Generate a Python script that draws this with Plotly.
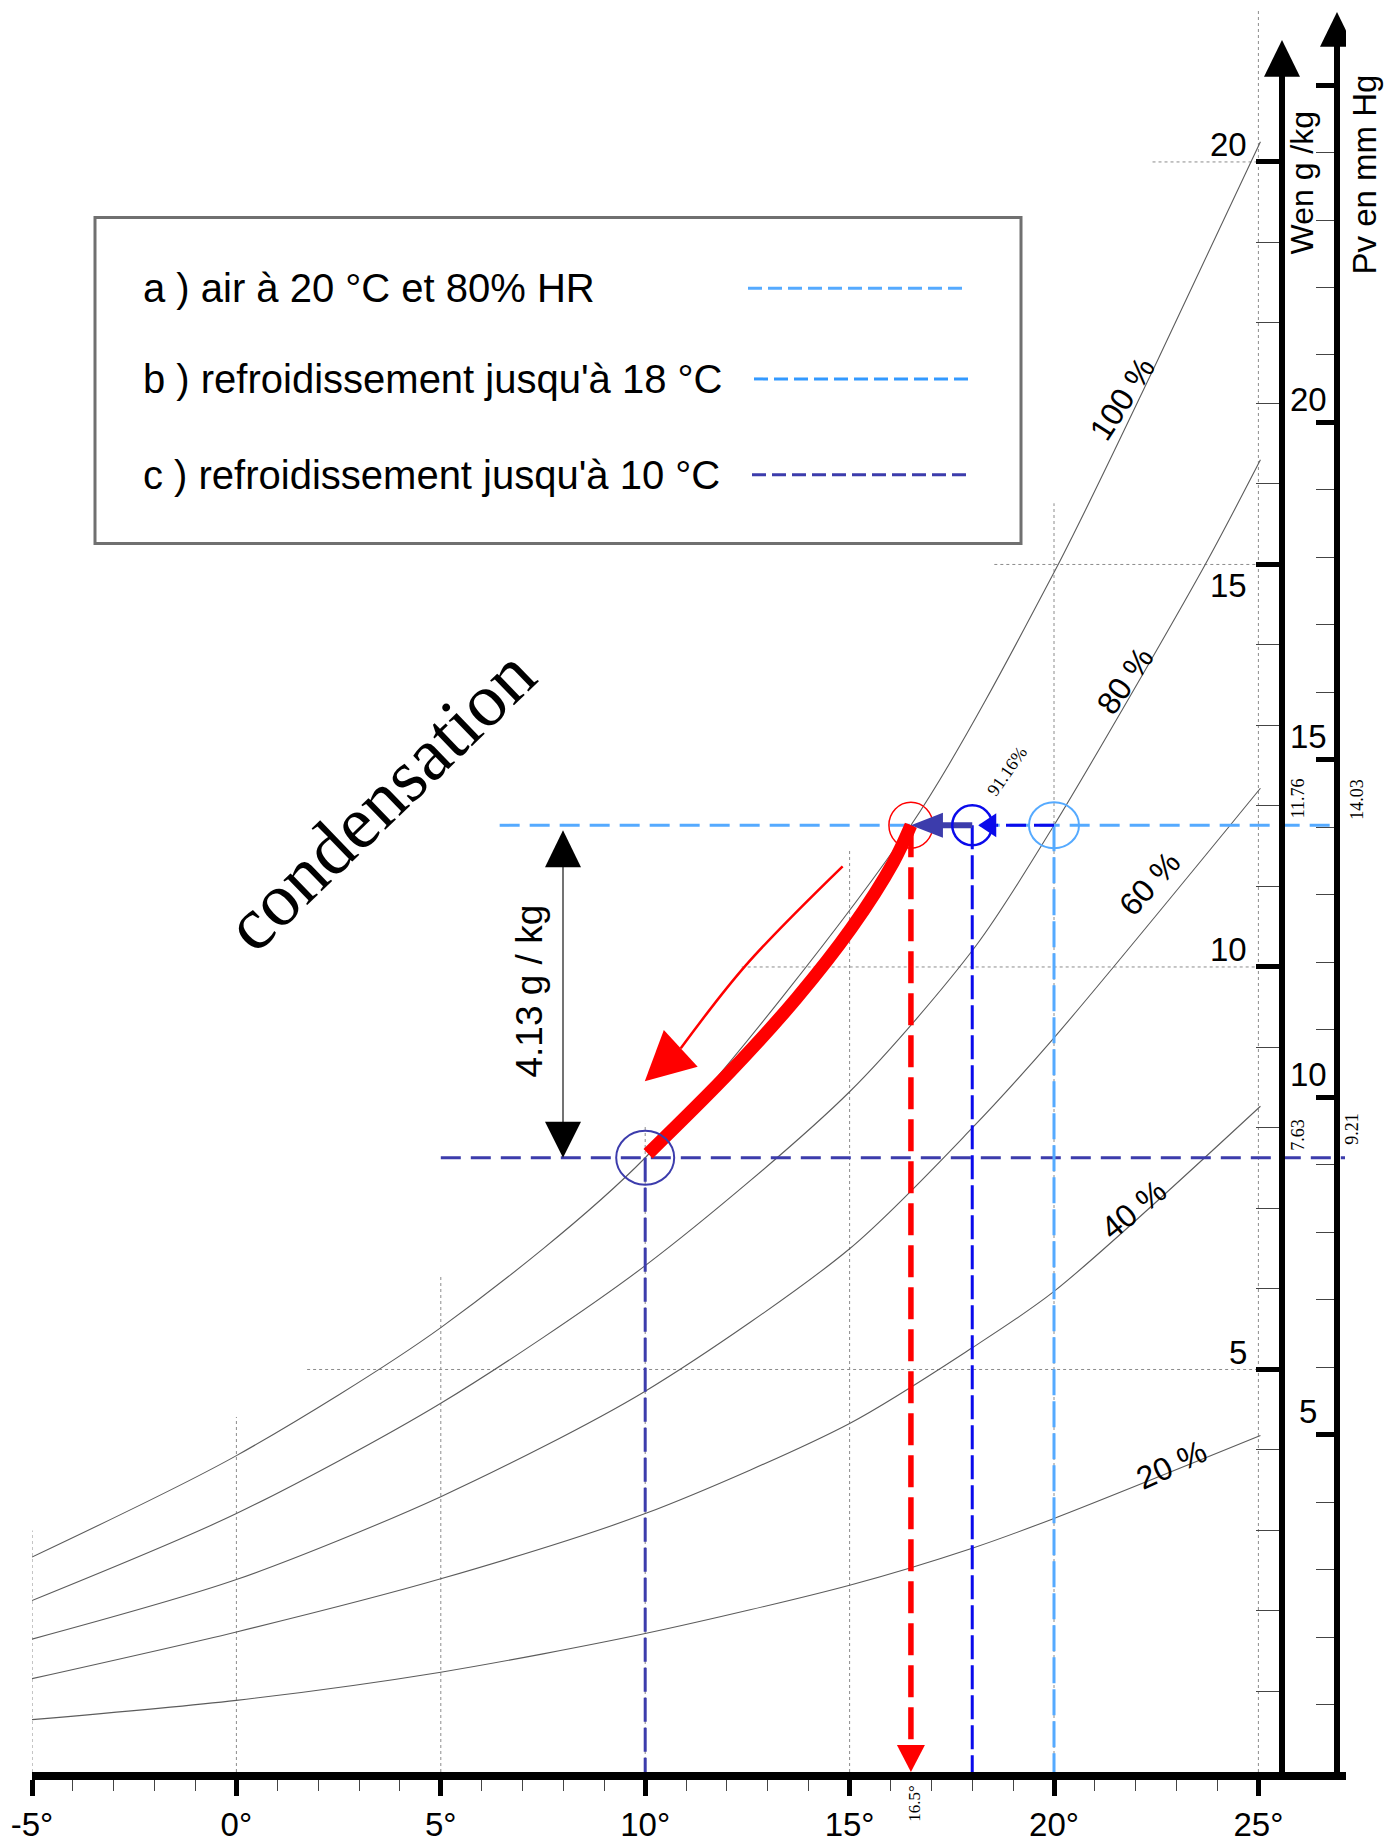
import plotly.graph_objects as go

# ---------------------------------------------------------------------------
# Psychrometric chart data  (dry-bulb temperature °C -> humidity ratio W g/kg)
# ---------------------------------------------------------------------------
temp_ticks = [-5, 0, 5, 10, 15, 20, 25]
temp_tick_text = ["-5°", "0°", "5°", "10°", "15°", "20°", "25°"]
temp_minor_ticks = [-4, -3, -2, -1, 1, 2, 3, 4, 6, 7, 8, 9,
                    11, 12, 13, 14, 16, 17, 18, 19, 21, 22, 23, 24]

w_ticks = [5, 10, 15, 20]
w_tick_text = ["5", "10", "15", "20"]
w_minor_ticks = [1, 2, 3, 4, 6, 7, 8, 9, 11, 12, 13, 14, 16, 17, 18, 19]

pv_ticks = [5, 10, 15, 20, 25]
pv_tick_text = ["5", "10", "15", "20", ""]
pv_minor_ticks = [1, 2, 3, 4, 6, 7, 8, 9, 11, 12, 13, 14,
                  16, 17, 18, 19, 21, 22, 23, 24]

# relative humidity curves
rh_names = ["100 %", "80 %", "60 %", "40 %", "20 %"]
t_rh100 = [-5, 0, 5, 10, 16.5, 20, 22.5, 25.05]
w_rh100 = [2.67, 3.93, 5.52, 7.63, 11.76, 14.9, 17.5, 20.25]
t_rh80 = [-5, 0, 5, 10, 15, 18.1, 20, 23.7, 25.05]
w_rh80 = [2.13, 3.21, 4.58, 6.29, 8.45, 10.27, 11.76, 15.0, 16.3]
t_rh60 = [-5, 0, 5, 10, 15, 18, 20, 25.05]
w_rh60 = [1.65, 2.39, 3.42, 4.73, 6.5, 8.0, 9.12, 12.22]
t_rh40 = [-5, 0, 5, 10, 15, 18, 20, 25.05]
w_rh40 = [1.16, 1.74, 2.40, 3.21, 4.33, 5.27, 5.97, 8.27]
t_rh20 = [-5, 0, 5, 10, 15, 18, 20, 25.05]
w_rh20 = [0.65, 0.89, 1.24, 1.72, 2.32, 2.78, 3.15, 4.18]

# partial grid (dotted) : verticals stop a little above saturation
grid_v_t = [-5, 0, 5, 10, 15, 20]
grid_v_top = [3.0, 4.41, 6.17, 8.05, 11.46, 15.76]
grid_h_w = [5, 10, 15, 20]
grid_h_start = [1.73, 12.36, 18.54, 22.41]
grid_edge_t = 25

# states : a) 20 °C / 80 %, b) 18 °C, dew point 16.5 °C, c) 10 °C
state_t = [20.0, 18.0, 16.5, 10.0]
state_w = [11.76, 11.76, 11.76, 7.63]
state_pv = [14.03, 9.21]          # vapour pressure of a) and c), mm Hg
rh_b = 91.16                      # relative humidity after cooling to 18 °C
guide_a_start = 6.44              # left end of the W = 11.76 guide
guide_c_start = 5.0               # left end of the W = 7.63 guide

# condensation along the saturation curve (16.5 °C -> 10 °C)
cond_t = [10.07, 12.1, 13.7, 15.04, 16.07, 16.5]
cond_w = [7.68, 8.71, 9.61, 10.48, 11.30, 11.76]
# thin arrow showing the direction (last point is the arrow tip)
dir_t = [14.83, 12.46, 10.87, 9.99]
dir_w = [11.25, 10.02, 8.99, 8.58]

# ---------------------------------------------------------------------------
# Page geometry
# ---------------------------------------------------------------------------
FIG_W, FIG_H = 1394, 1843
ML, MR, MT, MB = 32, 48, 0, 66
PX_T = 40.88                      # pixels per °C
PX_W = 80.73                      # pixels per g/kg
plot_w = FIG_W - ML - MR
plot_h = FIG_H - MT - MB
x_range = [-5, -5 + plot_w / PX_T]
y_range = [0, plot_h / PX_W]
pv_range = [0, y_range[1] * state_pv[0] / state_w[0]]


def X(px):
    return x_range[0] + (px - ML) / PX_T


def Y(py):
    return (FIG_H - MB - py) / PX_W


W_AXIS_T = X(1282)
PV_AXIS_T = X(1337)

LIGHT_BLUE = "#55aaff"
BLUE = "#0a0aeb"
SLATE = "#3c3cac"
RED = "#ff0000"
SANS = "Liberation Sans, Arial, sans-serif"
SERIF = "Liberation Serif, Times New Roman, serif"


def tri_path(base_t, base_w, tip_t, tip_w, half_px):
    dx = (tip_t - base_t) * PX_T
    dy = (tip_w - base_w) * PX_W
    n = (dx * dx + dy * dy) ** 0.5
    nx, ny = -dy / n, dx / n
    p1 = (base_t + nx * half_px / PX_T, base_w + ny * half_px / PX_W)
    p2 = (base_t - nx * half_px / PX_T, base_w - ny * half_px / PX_W)
    return (f"M{tip_t},{tip_w} L{p1[0]},{p1[1]} L{p2[0]},{p2[1]} Z")


def head(tip_t, tip_w, dir_px, length_px, half_px, color):
    """Filled triangle with its tip at (tip_t, tip_w); dir_px points tip-ward."""
    ux, uy = dir_px
    n = (ux * ux + uy * uy) ** 0.5
    ux, uy = ux / n, uy / n
    base_t = tip_t - ux * length_px / PX_T
    base_w = tip_w - uy * length_px / PX_W
    return dict(type="path", xref="x", yref="y", layer="above",
                path=tri_path(base_t, base_w, tip_t, tip_w, half_px),
                fillcolor=color, line=dict(width=0))


fig = go.Figure()

# ---- relative humidity curves ----
for t, w in [(t_rh100, w_rh100), (t_rh80, w_rh80), (t_rh60, w_rh60),
             (t_rh40, w_rh40), (t_rh20, w_rh20)]:
    fig.add_trace(go.Scatter(x=t, y=w, mode="lines", hoverinfo="skip",
                             line=dict(color="#5c5c5c", width=1.1,
                                       shape="spline", smoothing=0.8)))

# ---- horizontal guides ----
t_a, t_b, t_dew, t_c = state_t
w_a, w_b, w_dew, w_c = state_w
fig.add_trace(go.Scatter(x=[guide_a_start, PV_AXIS_T], y=[w_a, w_a], mode="lines",
                         hoverinfo="skip",
                         line=dict(color=LIGHT_BLUE, width=3, dash="20px,10px")))
fig.add_trace(go.Scatter(x=[guide_c_start, X(1345)], y=[w_c, w_c], mode="lines",
                         hoverinfo="skip",
                         line=dict(color=SLATE, width=3, dash="20px,10px")))

# ---- vertical guides down to the temperature axis ----
fig.add_trace(go.Scatter(x=[t_a, t_a], y=[w_a, 0], mode="lines", hoverinfo="skip",
                         line=dict(color=LIGHT_BLUE, width=3, dash="26px,6px")))
fig.add_trace(go.Scatter(x=[t_b, t_b], y=[w_b, 0], mode="lines", hoverinfo="skip",
                         line=dict(color=BLUE, width=3, dash="24px,6px")))
fig.add_trace(go.Scatter(x=[t_c, t_c], y=[w_c, 0], mode="lines", hoverinfo="skip",
                         line=dict(color=SLATE, width=3, dash="24px,6px")))
red_head_len = 27
fig.add_trace(go.Scatter(x=[t_dew, t_dew], y=[w_dew, red_head_len / PX_W], mode="lines",
                         hoverinfo="skip",
                         line=dict(color=RED, width=5.5, dash="32px,10px")))

# ---- cooling arrows a -> b -> dew point ----
blue_tip = t_b + 6 / PX_T
fig.add_trace(go.Scatter(x=[t_a, blue_tip + 18 / PX_T], y=[w_a, w_a], mode="lines",
                         hoverinfo="skip",
                         line=dict(color=BLUE, width=3, dash="20px,8px")))
fig.add_trace(go.Scatter(x=[t_b, t_dew + 30 / PX_T], y=[w_b, w_b], mode="lines",
                         hoverinfo="skip", line=dict(color=SLATE, width=6)))

# ---- condensation path and direction arrow ----
fig.add_trace(go.Scatter(x=cond_t, y=cond_w, mode="lines", hoverinfo="skip",
                         line=dict(color=RED, width=13, shape="spline", smoothing=1)))
fig.add_trace(go.Scatter(x=cond_t[-3:], y=cond_w[-3:], mode="lines", hoverinfo="skip",
                         line=dict(color=RED, width=9, shape="spline")))
fig.add_trace(go.Scatter(x=dir_t[:-1], y=dir_w[:-1], mode="lines", hoverinfo="skip",
                         line=dict(color=RED, width=2.5, shape="spline")))

# ---- water removed : double arrow ----
drop_t = X(563)
fig.add_trace(go.Scatter(x=[drop_t, drop_t], y=[w_a - 20 / PX_W, w_c + 20 / PX_W],
                         mode="lines", hoverinfo="skip",
                         line=dict(color="#444444", width=1.5)))

# ---- invisible trace carrying the vapour-pressure axis ----
fig.add_trace(go.Scatter(x=[PV_AXIS_T, PV_AXIS_T], y=state_pv, yaxis="y2",
                         mode="markers", marker=dict(opacity=0), hoverinfo="skip"))

shapes = []
GRID = dict(color="#8c8c8c", width=1, dash="dot")
for t, top in zip(grid_v_t, grid_v_top):
    shapes.append(dict(type="line", xref="x", yref="y", x0=t, x1=t, y0=0, y1=top,
                       line=GRID, layer="below"))
shapes.append(dict(type="line", xref="x", yref="y", x0=grid_edge_t, x1=grid_edge_t,
                   y0=0, y1=Y(10), line=GRID, layer="below"))
for w, start in zip(grid_h_w, grid_h_start):
    shapes.append(dict(type="line", xref="x", yref="y", x0=start, x1=grid_edge_t,
                       y0=w, y1=w, line=GRID, layer="below"))

# state circles
circle_style = [(LIGHT_BLUE, 2, 25, 23), (BLUE, 2.5, 20, 20),
                (RED, 1.5, 22, 23), (SLATE, 2, 29, 27)]
for t, w, (col, lw, rx, ry) in zip(state_t, state_w, circle_style):
    shapes.append(dict(type="circle", xref="x", yref="y", layer="above",
                       x0=t - rx / PX_T, x1=t + rx / PX_T,
                       y0=w - ry / PX_W, y1=w + ry / PX_W,
                       line=dict(color=col, width=lw)))

# arrow heads
shapes.append(head(t_dew, 0.0, (0, -1), red_head_len, 14, RED))
shapes.append(head(blue_tip, w_a, (-1, 0), 18, 12, BLUE))
shapes.append(head(t_dew, w_dew, (-1, 0), 32, 12.5, SLATE))
shapes.append(dict(type="path", xref="x", yref="y", layer="above",
                   path=tri_path(dir_t[-2], dir_w[-2], dir_t[-1], dir_w[-1], 25),
                   fillcolor=RED, line=dict(width=0)))
shapes.append(head(drop_t, w_a - 5 / PX_W, (0, 1), 37, 18, "#000000"))
shapes.append(head(drop_t, w_c, (0, -1), 36, 18, "#000000"))

# vertical axes (W and Pv) with arrow heads
shapes.append(dict(type="line", xref="x", yref="y", x0=W_AXIS_T, x1=W_AXIS_T,
                   y0=0, y1=Y(76), line=dict(color="black", width=6), layer="above"))
shapes.append(head(W_AXIS_T, Y(40), (0, 1), 37, 18, "#000000"))
shapes.append(dict(type="line", xref="x", yref="y", x0=PV_AXIS_T, x1=PV_AXIS_T,
                   y0=0, y1=Y(46), line=dict(color="black", width=6), layer="above"))
shapes.append(head(PV_AXIS_T, Y(12), (0, 1), 35, 17, "#000000"))

# legend box
shapes.append(dict(type="rect", xref="x", yref="y", x0=X(95), x1=X(1021),
                   y0=Y(545), y1=Y(218), line=dict(color="#707070", width=3),
                   fillcolor="white", layer="above"))
legend_text = ["a ) air à 20 °C et 80% HR",
               "b ) refroidissement jusqu'à 18 °C",
               "c ) refroidissement jusqu'à 10 °C"]
legend_colors = [LIGHT_BLUE, "#3399ff", SLATE]
legend_rows = [289, 380, 476]
legend_sample = [(748, 968), (754, 974), (752, 968)]
for ypx, (xa, xb), col in zip(legend_rows, legend_sample, legend_colors):
    shapes.append(dict(type="line", xref="x", yref="y", x0=X(xa), x1=X(xb),
                       y0=Y(ypx), y1=Y(ypx), layer="above",
                       line=dict(color=col, width=3, dash="14px,6px")))

annotations = []


def note(text, x, y, size, family=SANS, angle=0, xanchor="center",
         yanchor="middle", yaxis="y", **kw):
    # paper coordinates so that text outside the plotting area stays visible
    rng = pv_range if yaxis == "y2" else y_range
    xp = (x - x_range[0]) / (x_range[1] - x_range[0])
    yp = (y - rng[0]) / (rng[1] - rng[0])
    annotations.append(dict(text=text, x=xp, y=yp, xref="paper", yref="paper",
                            showarrow=False, textangle=angle,
                            xanchor=xanchor, yanchor=yanchor,
                            font=dict(family=family, size=size, color="black"),
                            **kw))


for ypx, txt in zip(legend_rows, legend_text):
    note(txt, X(141), Y(ypx), 40, xanchor="left")

# W axis labels (the 15 sits below its tick, clear of the 100 % curve)
w_label_shift = [17, 17, -21, 17]
for w, txt, sh in zip(w_ticks, w_tick_text, w_label_shift):
    note(txt, W_AXIS_T, w, 33, xanchor="right", xshift=-33, yshift=sh)
for p, txt in zip(pv_ticks, pv_tick_text):
    if txt:
        note(txt, PV_AXIS_T, p, 33, xshift=-29, yshift=23, yaxis="y2")

note("Wen g /kg", X(1302), Y(184), 32, angle=-90)
note("Pv en mm Hg", X(1365), Y(175), 33, angle=-90)

# relative humidity labels
rh_label_px = [(1122, 400), (1125, 683), (1149, 886), (1133, 1213), (1171, 1469)]
rh_label_angle = [-57, -55, -48, -39, -25]
for name, (px, py), ang in zip(rh_names, rh_label_px, rh_label_angle):
    note(name, X(px), Y(py), 32, angle=ang)

# values read at the states
note(f"{w_a:.2f}", X(1298), w_a, 18, family=SERIF, angle=-90,
     yanchor="bottom", yshift=5)
note(f"{state_pv[0]:.2f}", X(1357), w_a, 18, family=SERIF, angle=-90,
     yanchor="bottom", yshift=3)
note(f"{w_c:.2f}", X(1298), w_c, 18, family=SERIF, angle=-90,
     yanchor="bottom", yshift=5)
note(f"{state_pv[1]:.2f}", X(1352), w_c, 18, family=SERIF, angle=-90,
     yanchor="bottom", yshift=11)
note(f"{rh_b:.2f}%", X(1007), Y(773), 18, family=SERIF, angle=-55)
note(f"{t_dew:g}°", t_dew, Y(1808), 17, family=SERIF, angle=-90, xshift=4)

note(f"{w_a - w_c:.2f} g / kg", drop_t, (w_a + w_c) / 2, 37, angle=-90,
     xshift=-33)
note("condensation", X(380), Y(802), 75, family=SERIF, angle=-44)

fig.update_layout(
    width=FIG_W, height=FIG_H, autosize=False,
    margin=dict(l=ML, r=MR, t=MT, b=MB, pad=0),
    paper_bgcolor="white", plot_bgcolor="white",
    showlegend=False,
    xaxis=dict(range=x_range, showgrid=False, zeroline=False,
               showline=True, linewidth=8, linecolor="black",
               ticks="outside", tickvals=temp_ticks, ticktext=temp_tick_text,
               ticklen=16, tickwidth=5, tickcolor="black",
               tickfont=dict(family=SANS, size=33, color="black"),
               minor=dict(tickvals=temp_minor_ticks, ticks="outside",
                          ticklen=11, tickwidth=1, tickcolor="#444444",
                          showgrid=False)),
    yaxis=dict(range=y_range, anchor="free",
               position=(W_AXIS_T - x_range[0]) / (x_range[1] - x_range[0]),
               side="left", showgrid=False, zeroline=False, showline=False,
               ticks="outside", tickvals=w_ticks, ticklen=26, tickwidth=5,
               tickcolor="black", showticklabels=False,
               minor=dict(tickvals=w_minor_ticks, ticks="outside", ticklen=26,
                          tickwidth=1, tickcolor="#444444", showgrid=False)),
    yaxis2=dict(range=pv_range, overlaying="y", anchor="free",
                position=(PV_AXIS_T - x_range[0]) / (x_range[1] - x_range[0]),
                side="left", showgrid=False, zeroline=False, showline=False,
                ticks="outside", tickvals=pv_ticks, ticklen=21, tickwidth=5,
                tickcolor="black", showticklabels=False,
                minor=dict(tickvals=pv_minor_ticks, ticks="outside", ticklen=21,
                           tickwidth=1, tickcolor="#444444", showgrid=False)),
    shapes=shapes,
    annotations=annotations,
)

fig.write_html("out.html", config={"displayModeBar": False})
